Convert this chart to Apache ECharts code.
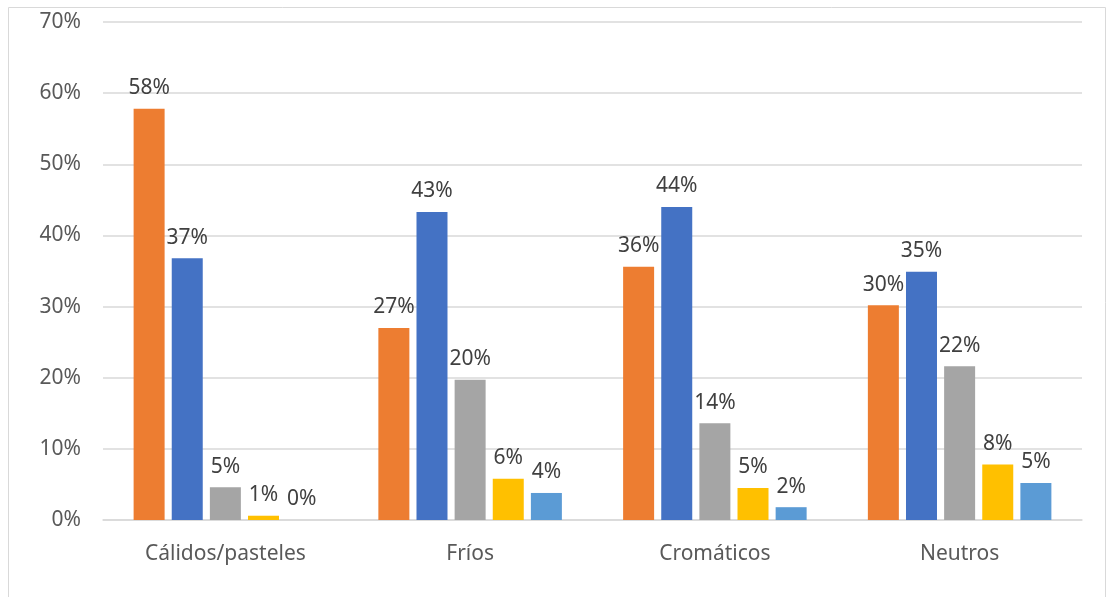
<!DOCTYPE html>
<html><head><meta charset="utf-8">
<script src="https://cdn.jsdelivr.net/npm/echarts@6/dist/echarts.min.js"></script>
<style>html,body{margin:0;padding:0;background:#fff}#c{width:1110px;height:597px}</style>
</head><body><div id="c"></div>
<script>
const categories = ['Cálidos/pasteles', 'Fríos', 'Cromáticos', 'Neutros'];
const serie1 = [57.8, 27.0, 35.6, 30.2];
const serie2 = [36.8, 43.3, 44.0, 34.9];
const serie3 = [4.6, 19.7, 13.6, 21.6];
const serie4 = [0.6, 5.8, 4.5, 7.8];
const serie5 = [0.0, 3.8, 1.8, 5.2];
const yTicks = [0, 10, 20, 30, 40, 50, 60, 70];
const colors = ['#ED7D31', '#4472C4', '#A5A5A5', '#FFC000', '#5B9BD5'];

const font = 'Noto Sans';
const chart = echarts.init(document.getElementById('c'), null, {renderer: 'canvas'});
const mk = (data, i) => ({
  type: 'bar', data, barWidth: 31, barGap: '23%',
  itemStyle: {color: colors[i]},
  label: {show: true, position: 'top', distance: 10, color: '#404040', fontSize: 21, fontFamily: font,
    formatter: p => Math.round(p.value) + '%'}
});
chart.setOption({
  animation: false,
  graphic: [{type: 'rect', shape: {x: 8.5, y: 7.5, width: 1097, height: 600}, style: {fill: 'none', stroke: '#D9D9D9', lineWidth: 1}}],
  grid: {left: 103, right: 28, top: 22, bottom: 77},
  xAxis: {type: 'category', data: categories,
    axisLine: {show: true, lineStyle: {color: '#D9D9D9', width: 1.5}}, axisTick: {show: false},
    axisLabel: {color: '#595959', fontSize: 21, fontFamily: font, margin: 24}},
  yAxis: {type: 'value', min: yTicks[0], max: yTicks[yTicks.length - 1], interval: 10,
    axisLine: {show: false}, axisTick: {show: false},
    splitLine: {lineStyle: {color: '#D9D9D9', width: 1.5}},
    axisLabel: {color: '#595959', fontSize: 21, fontFamily: font, margin: 22, formatter: v => v + '%'}},
  series: [serie1, serie2, serie3, serie4, serie5].map(mk)
});
</script></body></html>
